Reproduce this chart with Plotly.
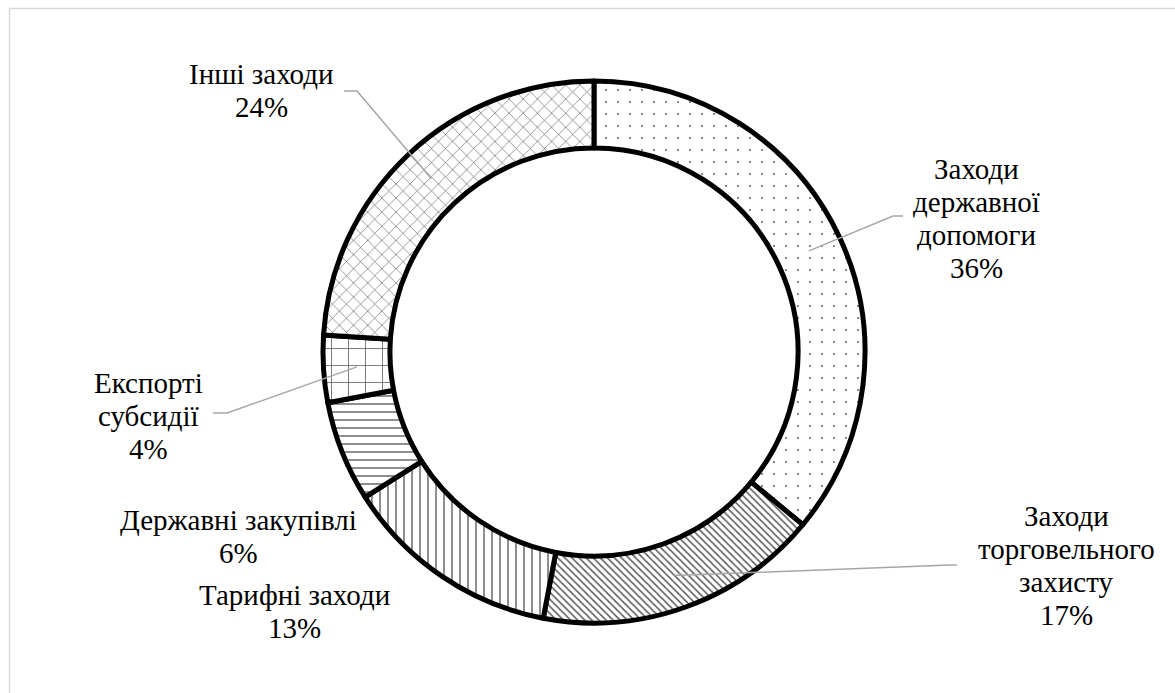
import math
import plotly.graph_objects as go

# Structure of non-tariff measures (share, %)
categories = [
    "Заходи державної допомоги",
    "Заходи торговельного захисту",
    "Тарифні заходи",
    "Державні закупівлі",
    "Експорті субсидії",
    "Інші заходи",
]
shares = [36, 17, 13, 6, 4, 24]

# Fill patterns of the slices (monochrome, print-style)
pattern_shapes = [".", "\\", "|", "-", "+", "x"]
pattern_sizes = [12, 5, 8, 8, 17, 10]
pattern_solidity = [0.02, 0.3, 0.17, 0.17, 0.09, 0.12]

W, H = 1175, 693
CX, CY = 594, 352          # ring centre, px
R_OUT = 271                # outer radius, px
HOLE = 0.753               # inner / outer radius
SERIF = "Liberation Serif"
FONT_SIZE = 29
LINE_H = 33


def px(x):
    return x / W


def py(y):
    return 1 - y / H


fig = go.Figure(
    go.Pie(
        labels=categories,
        values=shares,
        hole=HOLE,
        sort=False,
        direction="clockwise",
        rotation=0,
        textinfo="none",
        hoverinfo="label+percent",
        showlegend=False,
        domain=dict(
            x=[px(CX - R_OUT), px(CX + R_OUT)],
            y=[py(CY + R_OUT), py(CY - R_OUT)],
        ),
        marker=dict(
            colors=["white"] * len(shares),
            line=dict(color="black", width=5),
            pattern=dict(
                shape=pattern_shapes,
                size=pattern_sizes,
                solidity=pattern_solidity,
                fgcolor="#5a5a5a",
                bgcolor="white",
                fillmode="replace",
            ),
        ),
    )
)

# centroid of each slice on the middle of the ring (for leader lines)
total = sum(shares)
r_mid = R_OUT * (1 + HOLE) / 2
mids = []
acc = 0
for v in shares:
    a = 2 * math.pi * (acc + v / 2) / total
    mids.append((CX + r_mid * math.sin(a), CY - r_mid * math.cos(a)))
    acc += v

# label placement: centre x, first line centre y, wrap width (chars)
label_pos = [
    (976, 169, 12),
    (1066, 516, 14),
    (294, 595, 16),
    (238, 520, 20),
    (148, 383, 10),
    (261, 74, 14),
]
# leader lines: text-side end, elbow point (None = no leader)
leaders = [
    ((903, 216), (893, 216)),
    ((957, 565), (950, 565)),
    None,
    None,
    ((213, 413), (227, 413)),
    ((344, 91), (357, 91)),
]


def wrap(text, width):
    lines, cur = [], ""
    for w in text.split():
        if cur and len(cur) + 1 + len(w) > width:
            lines.append(cur)
            cur = w
        else:
            cur = (cur + " " + w).strip()
    lines.append(cur)
    return lines


annotations = []
shapes = []
for i, (name, v) in enumerate(zip(categories, shares)):
    x0, y0, wdt = label_pos[i]
    pct = round(100 * v / total)
    lines = wrap(name, wdt) + [f"{pct}%"]
    for k, ln in enumerate(lines):
        annotations.append(dict(
            x=px(x0), y=py(y0 + k * LINE_H), xref="paper", yref="paper",
            text=ln, showarrow=False, xanchor="center", yanchor="middle",
            font=dict(family=SERIF, size=FONT_SIZE, color="black"),
        ))
    if leaders[i] is not None:
        (ax, ay), (ex, ey) = leaders[i]
        mx, my = mids[i]
        shapes.append(dict(
            type="path", xref="paper", yref="paper",
            path=f"M{px(ax)},{py(ay)} L{px(ex)},{py(ey)} L{px(mx)},{py(my)}",
            line=dict(color="#a6a6a6", width=1.5),
        ))

# chart area frame
shapes.append(dict(
    type="rect", xref="paper", yref="paper",
    x0=px(9.5), y0=py(H + 10), x1=px(W + 10), y1=py(8.5),
    line=dict(color="#d9d9d9", width=1.5), fillcolor="rgba(0,0,0,0)",
    layer="below",
))

fig.update_layout(
    width=W, height=H,
    margin=dict(l=0, r=0, t=0, b=0),
    font=dict(family=SERIF, size=FONT_SIZE, color="black"),
    paper_bgcolor="white",
    plot_bgcolor="white",
    annotations=annotations,
    shapes=shapes,
)

fig.write_html("out.html")
